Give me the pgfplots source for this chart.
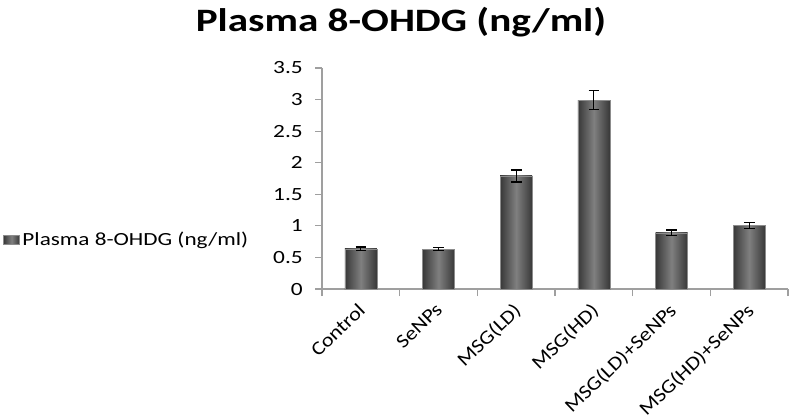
\documentclass[border=0pt]{standalone}
\usepackage{pgfplots}
\pgfplotsset{compat=1.18}
\usepackage{fontspec}
\setmainfont{Carlito}

\newcommand{\wide}[1]{\scalebox{1.25}[1]{#1}}
\newcommand{\tilt}[1]{\scalebox{1.15}[1]{#1}}

\pgfplotsset{
  cyl/.style={ybar, bar width=24pt, bar shift=0pt, draw=black!45,
    left color=black!78, right color=black!78, middle color=black!50,
    error bars/y dir=both, error bars/y explicit,
    error bars/error bar style={black, line width=0.8pt},
    error bars/error mark options={rotate=90, mark size=4pt, black, line width=0.8pt}},
}

\begin{document}
\begin{tikzpicture}
\path[use as bounding box] (0,0) rectangle (593.25pt,314.25pt);

\node[font=\fontsize{24.5}{30}\selectfont\bfseries] at (300.75pt,297.5pt)
  {\scalebox{1.26}[1]{Plasma 8-OHDG (ng/ml)}};

\begin{axis}[
  at={(241.5pt,97.5pt)}, anchor=south west,
  scale only axis, width=349.5pt, height=165.75pt,
  xmin=-0.5, xmax=5.5, ymin=0, ymax=3.5,
  axis x line*=bottom, axis y line*=left,
  axis line style={draw=gray!75, line width=0.8pt},
  ytick={0,0.5,...,3.5},
  yticklabel={\wide{\pgfmathprintnumber{\tick}}},
  /pgf/number format/assume math mode=true,
  yticklabel style={font=\fontsize{14}{16}\selectfont, anchor=east, inner sep=0pt, xshift=-9pt},
  xtick={0,...,5},
  xticklabels={\tilt{Control},\tilt{SeNPs},\tilt{MSG(LD)},\tilt{MSG(HD)},\tilt{MSG(LD)+SeNPs},\tilt{MSG(HD)+SeNPs}},
  xticklabel style={font=\fontsize{14.5}{16}\selectfont, rotate=44, anchor=north east, inner sep=1pt, xshift=-4pt, yshift=0pt},
  major x tick style={draw=none},
  minor xtick={-0.5,0.5,1.5,2.5,3.5,4.5,5.5},
  tick align=outside,
  major tick length=5.25pt, minor tick length=5.25pt,
  every tick/.style={draw=gray!75, line width=0.8pt},
  legend style={at={(axis description cs:-0.6845,0.222)}, anchor=west,
    draw=none, fill=none, inner sep=0pt, font=\fontsize{13.9}{16}\selectfont},
  legend cell align=left,
  legend image code/.code={\fill[black!65, draw=black!45] (0pt,-3.5pt) rectangle (12pt,3.5pt);},
]
% one plot per bar so each bar gets its own shading
\addplot[cyl] coordinates {(0,0.635) +- (0,0.030)};
\addlegendentry{\wide{Plasma 8-OHDG (ng/ml)}}
\addplot[forget plot, cyl] coordinates {(1,0.630) +- (0,0.020)};
\addplot[forget plot, cyl] coordinates {(2,1.790) +- (0,0.095)};
\addplot[forget plot, cyl] coordinates {(3,2.990) +- (0,0.150)};
\addplot[forget plot, cyl] coordinates {(4,0.890) +- (0,0.045)};
\addplot[forget plot, cyl] coordinates {(5,1.010) +- (0,0.045)};
\end{axis}
\end{tikzpicture}
\end{document}
